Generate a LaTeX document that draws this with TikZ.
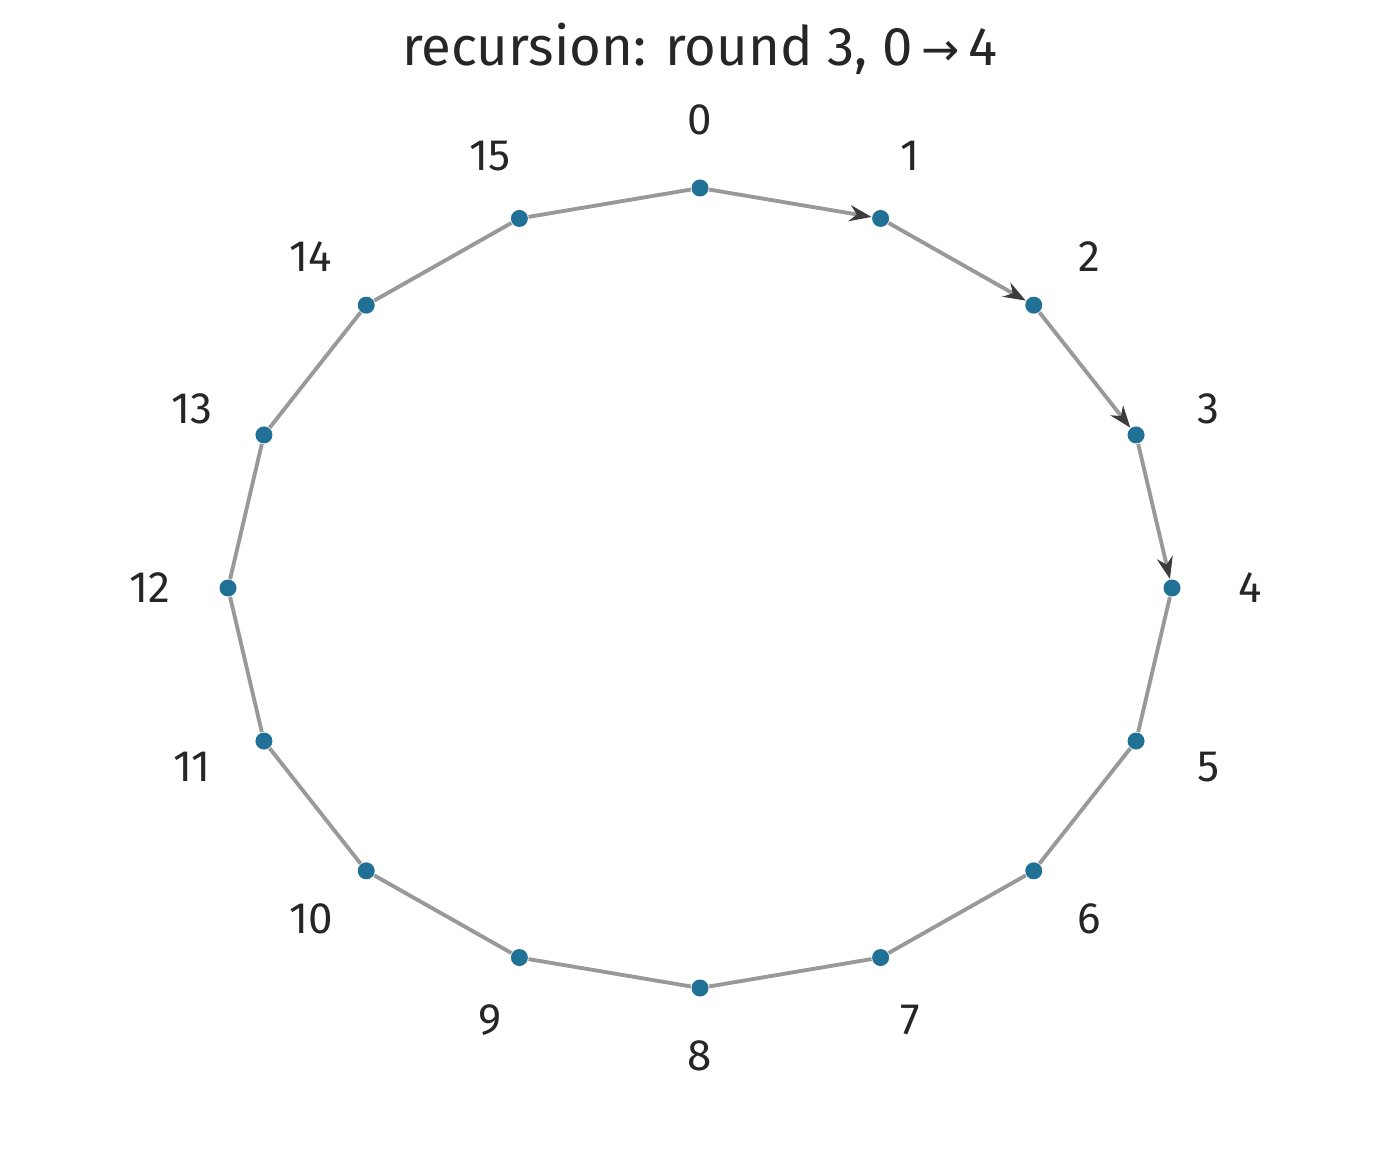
\documentclass[tikz,border=0pt]{standalone}
\usepackage{fontspec}
\setmainfont{Fira Sans}
\newfontfamily\symfont{DejaVu Sans}
\usetikzlibrary{arrows.meta}
\definecolor{vertexblue}{RGB}{33,113,150}
\definecolor{edgegray}{RGB}{153,153,153}
\definecolor{tipdark}{RGB}{60,60,60}
\tikzset{
  vertex/.style={circle,fill=vertexblue,inner sep=0pt,minimum size=0.17cm},
  vlabel/.style={font=\fontsize{12.5}{15}\selectfont,text=black!85},
  edge/.style={draw=edgegray,line width=1.1pt},
  hop/.style={edge,-{Stealth[length=0.22cm,width=0.16cm,color=tipdark]}}
}
\begin{document}
\begin{tikzpicture}
  \useasboundingbox (0,0) rectangle (14,11.54);
  \def\cx{7}
  \def\cy{5.66}

  \node[font=\fontsize{15.5}{18}\selectfont,text=black!85] (title) at (7,11.05)
    {recursion: round 3, 0\,{\symfont\fontsize{13}{16}\selectfont →}\,4};

  \foreach \i in {0,...,15} {
    \pgfmathsetmacro\ang{90-22.5*\i}
    \node[vertex] (v\i) at ({\cx+4.72*cos(\ang)},{\cy+4.00*sin(\ang)}) {};
    \node[vlabel] (l\i) at ({\cx+5.50*cos(\ang)},{\cy+4.68*sin(\ang)}) {\i};
  }

  \foreach \i in {4,...,15} {
    \pgfmathtruncatemacro\j{mod(\i+1,16)}
    \draw[edge] (v\i) -- (v\j);
  }
  \foreach \i in {0,...,3} {
    \pgfmathtruncatemacro\j{\i+1}
    \draw[hop] (v\i) -- (v\j);
  }
\end{tikzpicture}
\end{document}
